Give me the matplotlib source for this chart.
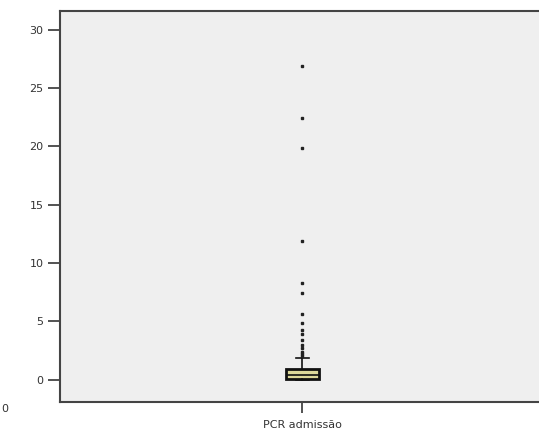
import matplotlib.pyplot as plt

# box summary (PCR admissão)
label = 'PCR admissão'
q1 = 0.05
med = 0.45
q3 = 0.95
whislo = 0.0
whishi = 1.9
outliers = [26.9, 22.4, 19.9, 11.9, 8.3, 7.4, 5.6, 4.9, 4.3, 3.9, 3.4, 3.0, 2.7, 2.4, 2.2, 2.05]

yticks = [0, 5, 10, 15, 20, 25, 30]

fig = plt.figure(figsize=(5.39, 4.48), dpi=100)
ax = fig.add_axes([60/539, 1-402/448, 1-60/539 + 0.01, (402-11)/448])
ax.set_facecolor('#efefef')

stats = [{'label': label, 'q1': q1, 'med': med, 'q3': q3,
          'whislo': whislo, 'whishi': whishi, 'fliers': outliers}]
ax.bxp(stats, positions=[1], widths=0.068, patch_artist=True,
       boxprops=dict(facecolor='#dcd89a', edgecolor='#111111', linewidth=2),
       medianprops=dict(color='#111111', linewidth=1.2),
       whiskerprops=dict(color='#111111', linewidth=1.2),
       capprops=dict(color='#111111', linewidth=1.2),
       capwidths=0.027,
       flierprops=dict(marker='s', markersize=2, markerfacecolor='#222222',
                       markeredgecolor='#222222'))

ax.set_xlim(0.5, 1.5)
ax.set_ylim(-1.9, 31.6)
ax.set_yticks(yticks)
ax.set_xticks([1])
ax.set_xticklabels([label])
ax.tick_params(axis='y', length=9, width=1.3, color='#444444',
               labelsize=8, labelcolor='#333333', pad=3)
ax.tick_params(axis='x', length=8, width=1.3, color='#444444',
               labelsize=8, labelcolor='#333333', pad=5)

for s in ['left', 'top', 'bottom']:
    ax.spines[s].set_color('#444444')
    ax.spines[s].set_linewidth(1.5)
ax.spines['right'].set_visible(False)

fig.text(0.002, 1-409/448, '0', fontsize=8, color='#333333', ha='left', va='center')

plt.savefig('out.png', dpi=100)
